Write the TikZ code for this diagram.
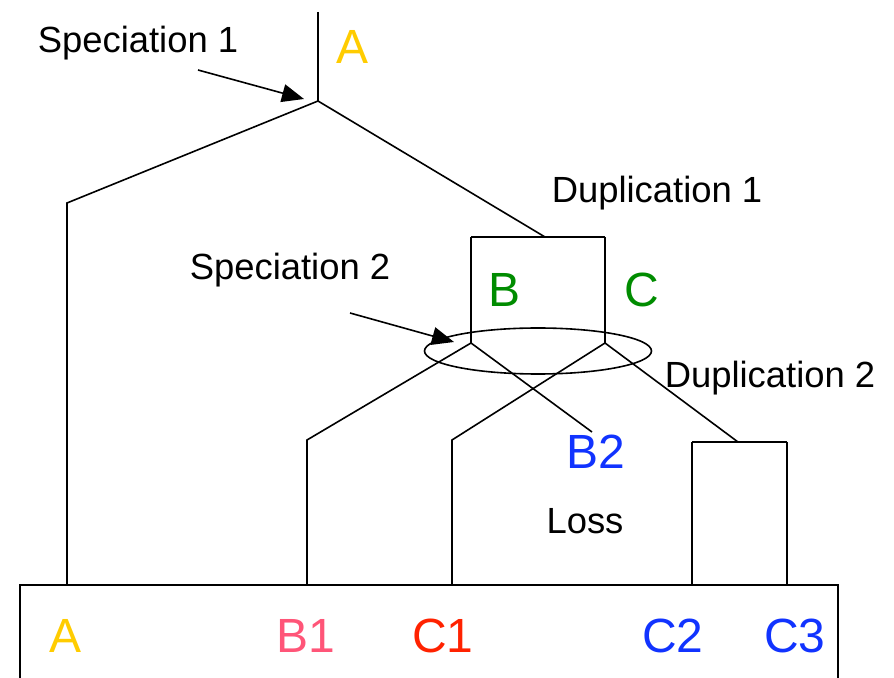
\documentclass[tikz,border=0pt]{standalone}
\usepackage{fontspec}
\setmainfont{Liberation Sans}
\usetikzlibrary{arrows.meta}

\definecolor{geneA}{RGB}{255,204,0}
\definecolor{geneBC}{RGB}{0,140,0}
\definecolor{geneB}{RGB}{255,85,120}
\definecolor{geneC}{RGB}{255,34,0}
\definecolor{genecopy}{RGB}{17,51,255}

\begin{document}
\begin{tikzpicture}[x=0.5pt,y=-0.5pt,line width=0.8pt,
    event/.style={inner sep=0pt, font=\fontsize{18.2}{20}\selectfont},
    gene/.style={inner sep=0pt, font=\fontsize{24}{26}\selectfont},
    pointer/.style={-{Triangle[length=11pt,width=9pt]}}]
\useasboundingbox (0,0) rectangle (894,678);

% Tree vertices
\coordinate (root) at (318,12);
\coordinate (sp1) at (318,101);
\coordinate (kA) at (67,203);
\coordinate (leafA) at (67,585);
\coordinate (dup1) at (545,237);
\coordinate (dup1l) at (471,237);
\coordinate (dup1r) at (605,237);
\coordinate (spB) at (471,343);
\coordinate (spC) at (605,343);
\coordinate (kB1) at (307,440);
\coordinate (leafB1) at (307,585);
\coordinate (kC1) at (452,440);
\coordinate (leafC1) at (452,585);
\coordinate (lossB2) at (592,432);
\coordinate (dup2) at (738,442);
\coordinate (dup2l) at (692,442);
\coordinate (dup2r) at (787,442);
\coordinate (leafC2) at (692,585);
\coordinate (leafC3) at (787,585);
\coordinate (tail1) at (198,70);
\coordinate (tip1) at (304,99);
\coordinate (tail2) at (350,313);
\coordinate (tip2) at (454,342);

% Labels
\node[event] (spec1) at (138,43) {Speciation 1};
\node[event] (spec2) at (290,270) {Speciation 2};
\node[event] (dupl1) at (657,193) {Duplication 1};
\node[event] (dupl2) at (770,378) {Duplication 2};
\node[event] (loss) at (585,521) {Loss};
\node[gene, text=geneA] (A) at (353,47) {A};
\node[gene, text=geneBC] (B) at (505,290) {B};
\node[gene, text=geneBC] (C) at (642,290) {C};
\node[gene, text=genecopy] (B2) at (596,452) {B2};
\node[gene, text=geneA] (A0) at (66,636) {A};
\node[gene, text=geneB] (B1) at (306,636) {B1};
\node[gene, text=geneC] (C1) at (443,636) {C1};
\node[gene, text=genecopy] (C2) at (673,636) {C2};
\node[gene, text=genecopy] (C3) at (795,636) {C3};

% Species box
\draw (20,680) -- (20,585) -- (838,585) -- (838,680);

% Edges
\draw[-] (root) -- (sp1);
\draw[-] (sp1) -- (kA) -- (leafA);
\draw[-] (sp1) -- (dup1);
\draw[-] (dup1l) -- (dup1r);
\draw[-] (dup1l) -- (spB);
\draw[-] (dup1r) -- (spC);
\draw[-] (spB) -- (kB1) -- (leafB1);
\draw[-] (spB) -- (lossB2);
\draw[-] (spC) -- (kC1) -- (leafC1);
\draw[-] (spC) -- (dup2);
\draw[-] (dup2l) -- (dup2r);
\draw[-] (dup2l) -- (leafC2);
\draw[-] (dup2r) -- (leafC3);

% Speciation 2 ring
\draw (538,351) ellipse [x radius=113.5, y radius=23];

% Pointers
\draw[pointer] (tail1) -- (tip1);
\draw[pointer] (tail2) -- (tip2);
\end{tikzpicture}
\end{document}
